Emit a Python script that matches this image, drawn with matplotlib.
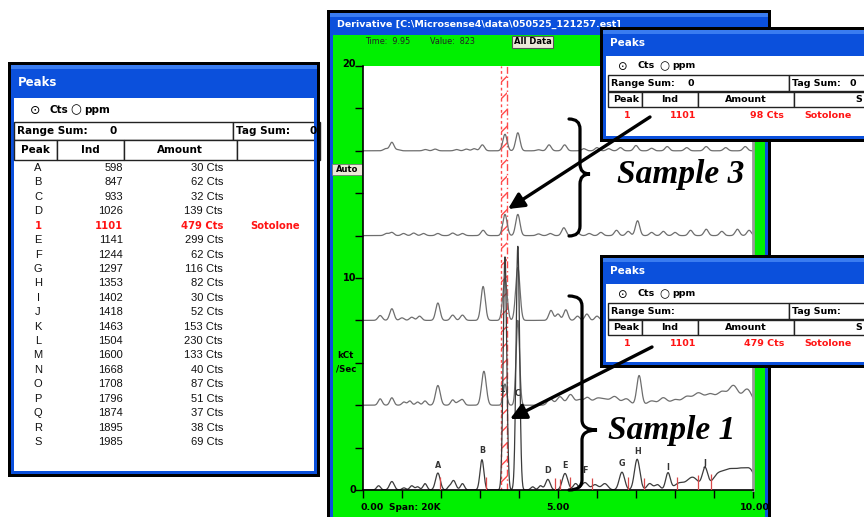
import matplotlib
matplotlib.use('Agg')
import matplotlib.pyplot as plt
from matplotlib.patches import Rectangle, PathPatch
from matplotlib.path import Path
import numpy as np

plt.rcParams['font.family'] = ['Liberation Sans', 'DejaVu Sans']

# ---- peak table (left window) ----
peak_names = ['A', 'B', 'C', 'D', '1', 'E', 'F', 'G', 'H', 'I', 'J', 'K', 'L',
              'M', 'N', 'O', 'P', 'Q', 'R', 'S']
peak_ind = [598, 847, 933, 1026, 1101, 1141, 1244, 1297, 1353, 1402, 1418, 1463,
            1504, 1600, 1668, 1708, 1796, 1874, 1895, 1985]
peak_cts = [30, 62, 32, 139, 479, 299, 62, 116, 82, 30, 52, 153, 230, 133, 40,
            87, 51, 37, 38, 69]
compound = 'Sotolone'
sample3_cts = 98
sample1_cts = 479

# ---- derivative traces: peak time, height (kCt/Sec), width ----
trace_offsets = [0, 4, 8, 12, 16]

t1_pos = [0.40, 0.74, 1.05, 1.25, 1.40, 1.59, 1.92, 2.20, 2.32, 2.55, 3.05, 3.64, 3.97,
          4.35, 4.55, 4.74, 5.18, 5.45, 5.69, 5.95, 6.20, 6.64, 7.03, 7.35, 7.55, 7.82,
          8.10, 8.45, 8.77, 9.10, 9.40, 9.70, 9.95]
t1_amp = [0.20, 0.40, 0.10, 0.20, 0.15, 0.30, 0.80, 0.12, 0.45, 0.30, 1.43, 11.0, 11.5,
          0.15, 0.20, 0.50, 0.78, 0.30, 0.35, 0.25, 0.30, 0.84, 1.45, 0.30, 0.25, 0.80,
          0.30, 0.60, 0.95, 0.70, 0.80, 0.85, 0.75]
t1_wid = [0.05, 0.06, 0.05, 0.05, 0.05, 0.05, 0.06, 0.04, 0.06, 0.05, 0.05, 0.045, 0.045,
          0.05, 0.05, 0.06, 0.07, 0.06, 0.08, 0.08, 0.08, 0.07, 0.07, 0.07, 0.07, 0.06,
          0.12, 0.15, 0.07, 0.15, 0.15, 0.15, 0.12]

t2_pos = [0.44, 0.74, 1.05, 1.20, 1.40, 1.59, 1.92, 2.30, 2.45, 2.55, 3.10, 3.64, 3.97,
          4.80, 5.05, 5.32, 5.55, 5.75, 6.00, 6.20, 6.45, 6.75, 7.08, 7.40, 7.70, 8.00,
          8.30, 8.60, 8.90, 9.20, 9.50, 9.85]
t2_amp = [0.30, 0.35, 0.15, 0.20, 0.15, 0.20, 0.93, 0.25, 0.15, 0.25, 1.60, 1.00, 4.00,
          0.30, 0.40, 0.50, 0.25, 0.35, 0.30, 0.25, 0.40, 0.30, 1.40, 0.20, 0.35, 0.25,
          0.40, 0.55, 0.50, 0.60, 0.90, 0.75]
t2_wid = [0.05, 0.05, 0.05, 0.05, 0.05, 0.05, 0.06, 0.05, 0.05, 0.05, 0.06, 0.045, 0.045,
          0.07, 0.08, 0.08, 0.08, 0.08, 0.10, 0.10, 0.10, 0.10, 0.06, 0.10, 0.10, 0.10,
          0.12, 0.12, 0.12, 0.12, 0.12, 0.12]

t3_pos = [0.44, 0.74, 1.00, 1.25, 1.45, 1.92, 2.30, 2.55, 3.08, 3.64, 3.97, 4.82, 5.00,
          5.20, 5.50, 5.74, 6.00, 6.50, 7.10, 7.60, 8.20, 8.80, 9.40]
t3_amp = [0.23, 0.55, 0.12, 0.15, 0.20, 0.82, 0.25, 0.25, 1.60, 2.00, 2.50, 0.47, 0.30,
          0.50, 0.20, 0.30, 0.20, 0.30, 0.80, 0.30, 0.30, 0.40, 0.30]

t4_pos = [0.60, 0.74, 1.04, 1.30, 1.55, 1.92, 2.30, 2.55, 3.08, 3.64, 3.97, 4.50, 4.80,
          5.15, 5.50, 5.80, 6.10, 6.50, 6.80, 7.04, 7.40, 7.70, 8.00, 8.40, 8.80, 9.20,
          9.60, 9.90]
t4_amp = [0.10, 0.15, 0.10, 0.12, 0.10, 0.10, 0.12, 0.10, 0.25, 1.00, 1.00, 0.08, 0.10,
          0.37, 0.12, 0.10, 0.15, 0.25, 0.20, 0.70, 0.15, 0.20, 0.15, 0.25, 0.30, 0.20,
          0.30, 0.25]

t5_pos = [0.58, 0.74, 0.90, 1.60, 1.85, 2.40, 2.65, 2.85, 3.06, 3.64, 3.97, 4.50, 4.77,
          5.17, 5.66, 6.00, 6.30, 6.60, 7.00, 7.40, 7.80, 8.30, 8.80, 9.30, 9.80]
t5_amp = [0.10, 0.40, 0.05, 0.06, 0.08, 0.06, 0.08, 0.10, 0.28, 0.78, 0.85, 0.05, 0.28,
          0.28, 0.10, 0.15, 0.10, 0.15, 0.25, 0.12, 0.20, 0.15, 0.20, 0.15, 0.20]

# peak letters on the bottom trace
lab_txt = ['A', 'B', '1', 'C', 'D', 'E', 'F', 'G', 'H', 'I', 'J']
lab_t = [1.92, 3.05, 3.56, 3.97, 4.72, 5.18, 5.69, 6.64, 7.03, 7.82, 8.77]
lab_y = [0.95, 1.65, 4.55, 4.35, 0.70, 0.95, 0.70, 1.05, 1.60, 0.85, 1.05]
# red peak boundary marks
mark_t = [1.97, 3.15, 4.92, 5.05, 5.30, 5.87, 6.80, 7.20, 8.05, 8.60, 8.92]
mark_h = [0.60, 0.60, 0.55, 0.50, 0.60, 0.55, 0.60, 0.55, 0.60, 0.70, 0.75]
tag_band = (3.54, 3.69)

W, H = 864, 517
BLUE = '#0b50dc'
GREEN = '#00f000'
RED = '#ff1414'

fig = plt.figure(figsize=(W / 100, H / 100), dpi=100)
bg = fig.add_axes([0, 0, 1, 1], zorder=0)
ov = fig.add_axes([0, 0, 1, 1], zorder=2)
for a in (bg, ov):
    a.set_xlim(0, W)
    a.set_ylim(H, 0)
    a.axis('off')
ov.patch.set_alpha(0)


def box(a, x0, y0, x1, y1, fc, ec='none', lw=0, z=1):
    a.add_patch(Rectangle((x0, y0), x1 - x0, y1 - y0, facecolor=fc,
                          edgecolor=ec, linewidth=lw, zorder=z))


def frame(a, x0, y0, x1, y1, tb, title, inner='white', fs=8):
    box(a, x0, y0, x1, y1, 'black')
    box(a, x0 + 3, y0 + 3, x1 - 3, y1 - 3, BLUE)
    box(a, x0 + 3, y0 + 3, x1 - 3, y0 + 7, '#3a7cf0')
    box(a, x0 + 6, tb, x1 - 6, y1 - 6, inner)
    a.text(x0 + 10, (y0 + tb) / 2 + 2, title, color='white', fontsize=fs,
           fontweight='bold', ha='left', va='center', family='DejaVu Sans', zorder=3)


def txt(a, x, y, s, ha='left', fs=7, bold=True, color='black', fam='DejaVu Sans'):
    a.text(x, y, s, ha=ha, va='center', fontsize=fs, color=color,
           fontweight='bold' if bold else 'normal', family=fam, zorder=4)


def radio(a, x, y, fs):
    txt(a, x, y, '\u2299', ha='center', fs=fs + 1.5, bold=False)
    txt(a, x + 15, y, 'Cts', fs=fs)
    txt(a, x + 41, y, '\u25cb', ha='center', fs=fs + 1.5, bold=False)
    txt(a, x + 49, y, 'ppm', fs=fs)


def cells(a, xs, y0, y1):
    for xa, xb in zip(xs[:-1], xs[1:]):
        box(a, xa, y0, xb, y1, 'white', ec='#222222', lw=1.0, z=2)


# ---------------- left Peaks window ----------------
frame(bg, 8, 62, 320, 477, 98, 'Peaks', fs=8.5)
radio(bg, 35, 110, 7.5)
cells(bg, [14, 233, 320], 122, 140)
txt(bg, 17, 131, 'Range Sum:', fs=7.5)
txt(bg, 110, 131, '0', fs=7.5)
txt(bg, 236, 131, 'Tag Sum:', fs=7.5)
txt(bg, 309, 131, '0', fs=7.5)
cells(bg, [14, 57, 124, 237, 320], 140, 160)
txt(bg, 35, 150, 'Peak', ha='center', fs=7.5)
txt(bg, 90, 150, 'Ind', ha='center', fs=7.5)
txt(bg, 180, 150, 'Amount', ha='center', fs=7.5)
box(bg, 314, 98, 320, 470, BLUE, z=3)
box(bg, 317, 62, 320, 477, 'black', z=3)
row_y = 168 + 14.42 * np.arange(len(peak_names))
for nm, ind, cts, y in zip(peak_names, peak_ind, peak_cts, row_y):
    hit = nm == '1'
    c = RED if hit else '#111111'
    fam = 'DejaVu Sans' if hit else 'Liberation Sans'
    fs = 7.2 if hit else 8
    txt(bg, 38, y, nm, ha='center', fs=fs, bold=hit, color=c, fam=fam)
    txt(bg, 123, y, str(ind), ha='right', fs=fs, bold=hit, color=c, fam=fam)
    txt(bg, 223, y, f'{cts} Cts', ha='right', fs=fs, bold=hit, color=c, fam=fam)
    if hit:
        txt(bg, 250, y, compound, fs=fs, color=c)

# ---------------- Derivative window ----------------
frame(bg, 327, 10, 771, 524, 35, r'Derivative [C:\Microsense4\data\050525_121257.est]',
      inner=GREEN, fs=6.8)
txt(bg, 365, 42, 'Time:  9.95', fs=5.8, bold=False, color='#222222')
txt(bg, 430, 42, 'Value:  823', fs=5.8, bold=False, color='#222222')
box(bg, 512, 36, 553, 48, '#ece9d8', ec='#555555', lw=0.8, z=2)
txt(bg, 532.5, 42, 'All Data', ha='center', fs=6)
box(bg, 332, 164, 362, 175, '#ece9d8', ec='#777777', lw=0.6, z=2)
txt(bg, 347, 169.5, 'Auto', ha='center', fs=6)
txt(bg, 345, 355, 'kCt', ha='center', fs=6.2)
txt(bg, 346, 369, '/Sec', ha='center', fs=6.2)
for v, y in [('20', 64), ('10', 278), ('0', 490)]:
    txt(bg, 356, y, v, ha='right', fs=7)
for v, x in [('0.00', 372), ('5.00', 558), ('10.00', 755)]:
    txt(bg, x, 507, v, ha='center', fs=6.8)
txt(bg, 389, 507, 'Span: 20K', fs=6.5)

px0, px1, py0, py1 = 363, 753, 66, 490
pa = fig.add_axes([px0 / W, 1 - py1 / H, (px1 - px0) / W, (py1 - py0) / H], zorder=1)
pa.set_xlim(0, 10)
pa.set_ylim(0, 20)
pa.set_xticks(np.arange(0, 11, 1))
pa.set_yticks(np.arange(0, 21, 2))
pa.set_xticklabels([])
pa.set_yticklabels([])
pa.tick_params(direction='out', length=6, width=1, color='black')
pa.spines['top'].set_visible(False)
pa.spines['right'].set_color('#9a9a9a')
pa.spines['right'].set_linewidth(2)
for s in ('left', 'bottom'):
    pa.spines[s].set_linewidth(1.2)

t = np.linspace(0, 10, 3000)


def trace(pos, amp, wid, off):
    wid = np.broadcast_to(wid, np.shape(pos))
    y = np.full_like(t, float(off))
    for p, h, w in zip(pos, amp, wid):
        y += h * np.exp(-0.5 * ((t - p) / w) ** 2)
    return y


pa.axvspan(*tag_band, facecolor='none', edgecolor='#ff4a4a', hatch='//', lw=0, zorder=1)
pa.axvline(tag_band[0], color='#ff4a4a', ls=(0, (2, 2)), lw=1.0, zorder=1)
pa.axvline(tag_band[1], color='#ff4a4a', ls=(0, (5, 2, 1, 2)), lw=1.0, zorder=1)

series = [(t5_pos, t5_amp, 0.055, trace_offsets[4]),
          (t4_pos, t4_amp, 0.055, trace_offsets[3]),
          (t3_pos, t3_amp, 0.055, trace_offsets[2]),
          (t2_pos, t2_amp, t2_wid, trace_offsets[1]),
          (t1_pos, t1_amp, t1_wid, trace_offsets[0])]
for i, (pos, amp, wid, off) in enumerate(series):
    col = '#3c3c3c' if i == 4 else '#6e6e6e'
    pa.plot(t, trace(pos, amp, wid, off), color=col, lw=0.9, zorder=2)

pa.vlines(mark_t, 0, mark_h, color='#d84a4a', lw=0.9, zorder=3)
for s, x, y in zip(lab_txt, lab_t, lab_y):
    pa.text(x, y, s, ha='center', va='bottom', fontsize=5.8, color='#333333',
            family='DejaVu Sans', fontweight='bold', zorder=4)

# ---------------- popup Peaks windows ----------------
def popup(y0, y1, cts, with_zero):
    frame(ov, 600, y0, 890, y1, y0 + 29, 'Peaks', fs=7.5)
    radio(ov, 623, y0 + 39, 6.8)
    cells(ov, [608, 789, 890], y0 + 48, y0 + 64)
    txt(ov, 611, y0 + 56, 'Range Sum:', fs=6.8)
    txt(ov, 792, y0 + 56, 'Tag Sum:', fs=6.8)
    if with_zero:
        txt(ov, 688, y0 + 56, '0', fs=6.8)
        txt(ov, 850, y0 + 56, '0', fs=6.8)
    cells(ov, [608, 642, 698, 794, 890], y0 + 65, y0 + 80)
    txt(ov, 626, y0 + 72.5, 'Peak', ha='center', fs=6.8)
    txt(ov, 670, y0 + 72.5, 'Ind', ha='center', fs=6.8)
    txt(ov, 746, y0 + 72.5, 'Amount', ha='center', fs=6.8)
    txt(ov, 855, y0 + 72.5, 'S', fs=6.8)
    ry = y0 + 89
    txt(ov, 627, ry, '1', ha='center', fs=6.8, color=RED)
    txt(ov, 696, ry, str(peak_ind[4]), ha='right', fs=6.8, color=RED)
    txt(ov, 784, ry, f'{cts} Cts', ha='right', fs=6.8, color=RED)
    txt(ov, 804, ry, compound, fs=6.8, color=RED)


popup(27, 142, sample3_cts, True)
popup(255, 368, sample1_cts, False)


def brace(a, xl, xm, xt, y0, ym, y1, r=10):
    verts = [(xl, y0), (xm, y0), (xm, y0 + r), (xm, ym - r), (xm, ym), (xt, ym),
             (xm, ym), (xm, ym + r), (xm, y1 - r), (xm, y1), (xl, y1)]
    codes = [Path.MOVETO, Path.CURVE3, Path.CURVE3, Path.LINETO, Path.CURVE3, Path.CURVE3,
             Path.CURVE3, Path.CURVE3, Path.LINETO, Path.CURVE3, Path.CURVE3]
    a.add_patch(PathPatch(Path(verts, codes), facecolor='none', edgecolor='black',
                          lw=2.3, zorder=5, capstyle='round'))


brace(ov, 569, 580, 590, 119, 174, 236)
brace(ov, 569, 582, 597, 296, 430, 490)

arrow = dict(arrowstyle='-|>', color='black', lw=2.4, mutation_scale=24, shrinkA=0, shrinkB=0)
ov.annotate('', xy=(508, 209), xytext=(650, 117), arrowprops=arrow, zorder=6)
ov.annotate('', xy=(510, 419), xytext=(652, 347), arrowprops=arrow, zorder=6)

ov.text(681, 174, 'Sample 3', ha='center', va='center', fontsize=24, family='Liberation Serif',
        fontweight='bold', style='italic', zorder=6)
ov.text(672, 431, 'Sample 1', ha='center', va='center', fontsize=24, family='Liberation Serif',
        fontweight='bold', style='italic', zorder=6)

fig.savefig('out.png', dpi=100, facecolor='white')
